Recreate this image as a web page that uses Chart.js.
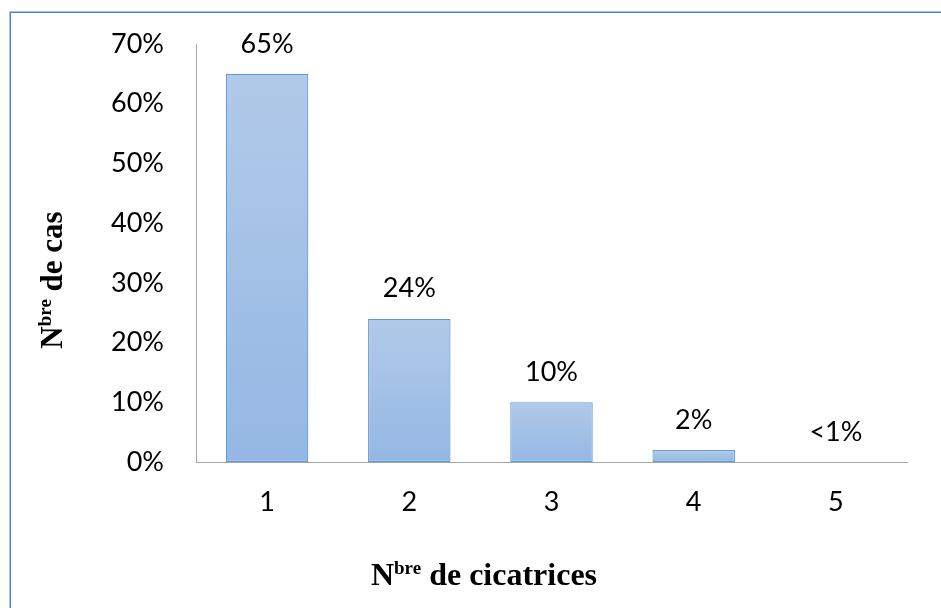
<!DOCTYPE html>
<html>
<head>
<meta charset="utf-8">
<script src="https://cdn.jsdelivr.net/npm/chart.js@4/dist/chart.umd.min.js"></script>
<style>
html,body{margin:0;padding:0;background:#fff;overflow:hidden;}
canvas{display:block;}
</style>
</head>
<body>
<canvas id="c" width="941" height="608"></canvas>
<script>
const categories = ['1', '2', '3', '4', '5'];
const values = [65, 24, 10, 2, 0];
const valueLabels = ['65%', '24%', '10%', '2%', '<1%'];
const yTitleMain = 'N', yTitleSup = 'bre', yTitleRest = ' de cas';
const xTitleMain = 'N', xTitleSup = 'bre', xTitleRest = ' de cicatrices';

const tickFont = {family: 'Lato', size: 27};

function barGradient(ctx) {
  const chart = ctx.chart;
  const area = chart.chartArea;
  if (!area || ctx.type !== 'data') return '#a5c2e6';
  const ys = chart.scales.y;
  const top = ys.getPixelForValue(values[ctx.dataIndex]);
  const base = ys.getPixelForValue(0);
  if (!isFinite(top) || base - top < 1) return '#a5c2e6';
  const g = chart.ctx.createLinearGradient(0, top, 0, base);
  g.addColorStop(0, '#b2cae9');
  g.addColorStop(1, '#94b7e3');
  return g;
}

const labelsPlugin = {
  id: 'valueLabels',
  afterDatasetsDraw(chart) {
    const ctx = chart.ctx;
    const meta = chart.getDatasetMeta(0);
    ctx.save();
    ctx.font = tickFont.size + 'px ' + tickFont.family;
    ctx.fillStyle = '#000';
    ctx.textAlign = 'center';
    ctx.textBaseline = 'middle';
    meta.data.forEach((bar, i) => {
      ctx.fillText(valueLabels[i], bar.x, bar.y - 30);
    });
    ctx.restore();
  }
};

function drawSupTitle(ctx, main, sup, rest, size) {
  const mainFont = 'bold ' + size + 'px "Liberation Serif"';
  const supFont = 'bold ' + Math.round(size * 0.6) + 'px "Liberation Serif"';
  ctx.font = mainFont;
  const wM = ctx.measureText(main).width;
  const wR = ctx.measureText(rest).width;
  ctx.font = supFont;
  const wS = ctx.measureText(sup).width;
  const total = wM + wS + wR;
  let x = -total / 2;
  ctx.textAlign = 'left';
  ctx.textBaseline = 'alphabetic';
  ctx.fillStyle = '#000';
  ctx.font = mainFont;
  ctx.fillText(main, x, 0);
  x += wM;
  ctx.font = supFont;
  ctx.fillText(sup, x, -size * 0.35);
  x += wS;
  ctx.font = mainFont;
  ctx.fillText(rest, x, 0);
}

const titlesPlugin = {
  id: 'titles',
  afterDraw(chart) {
    const ctx = chart.ctx;
    ctx.save();
    ctx.translate(484, 585);
    drawSupTitle(ctx, xTitleMain, xTitleSup, xTitleRest, 32);
    ctx.restore();
    ctx.save();
    ctx.translate(62, 280);
    ctx.rotate(-Math.PI / 2);
    drawSupTitle(ctx, yTitleMain, yTitleSup, yTitleRest, 31);
    ctx.restore();
    // outer frame
    ctx.save();
    ctx.strokeStyle = '#4f81d4';
    ctx.lineWidth = 1.5;
    ctx.strokeRect(10.25, 12.25, 1000, 1000);
    ctx.restore();
  }
};

new Chart(document.getElementById('c'), {
  type: 'bar',
  data: {
    labels: categories,
    datasets: [{
      data: values,
      backgroundColor: barGradient,
      borderColor: '#5d9ad6',
      borderWidth: 1.2,
      borderSkipped: false,
      categoryPercentage: 1,
      barPercentage: 0.58
    }]
  },
  options: {
    responsive: false,
    animation: false,
    devicePixelRatio: 1,
    layout: {padding: {top: 44, right: 34, left: 0, bottom: 0}},
    plugins: {legend: {display: false}, tooltip: {enabled: false}, title: {display: false}},
    scales: {
      x: {
        grid: {display: false, drawTicks: false},
        border: {display: true, color: '#a6a6a6', width: 1},
        ticks: {font: tickFont, color: '#000', padding: 24},
        afterFit(s) { s.height = 146; s.paddingLeft = 0; s.paddingRight = 0; }
      },
      y: {
        min: 0, max: 70,
        grid: {display: false, drawTicks: false},
        border: {display: true, color: '#a6a6a6', width: 1},
        ticks: {font: tickFont, color: '#000', padding: 32, stepSize: 10, callback: v => v + '%'},
        afterFit(s) { s.width = 196; s.paddingTop = 0; s.paddingBottom = 0; }
      }
    }
  },
  plugins: [labelsPlugin, titlesPlugin]
});
</script>
</body>
</html>
